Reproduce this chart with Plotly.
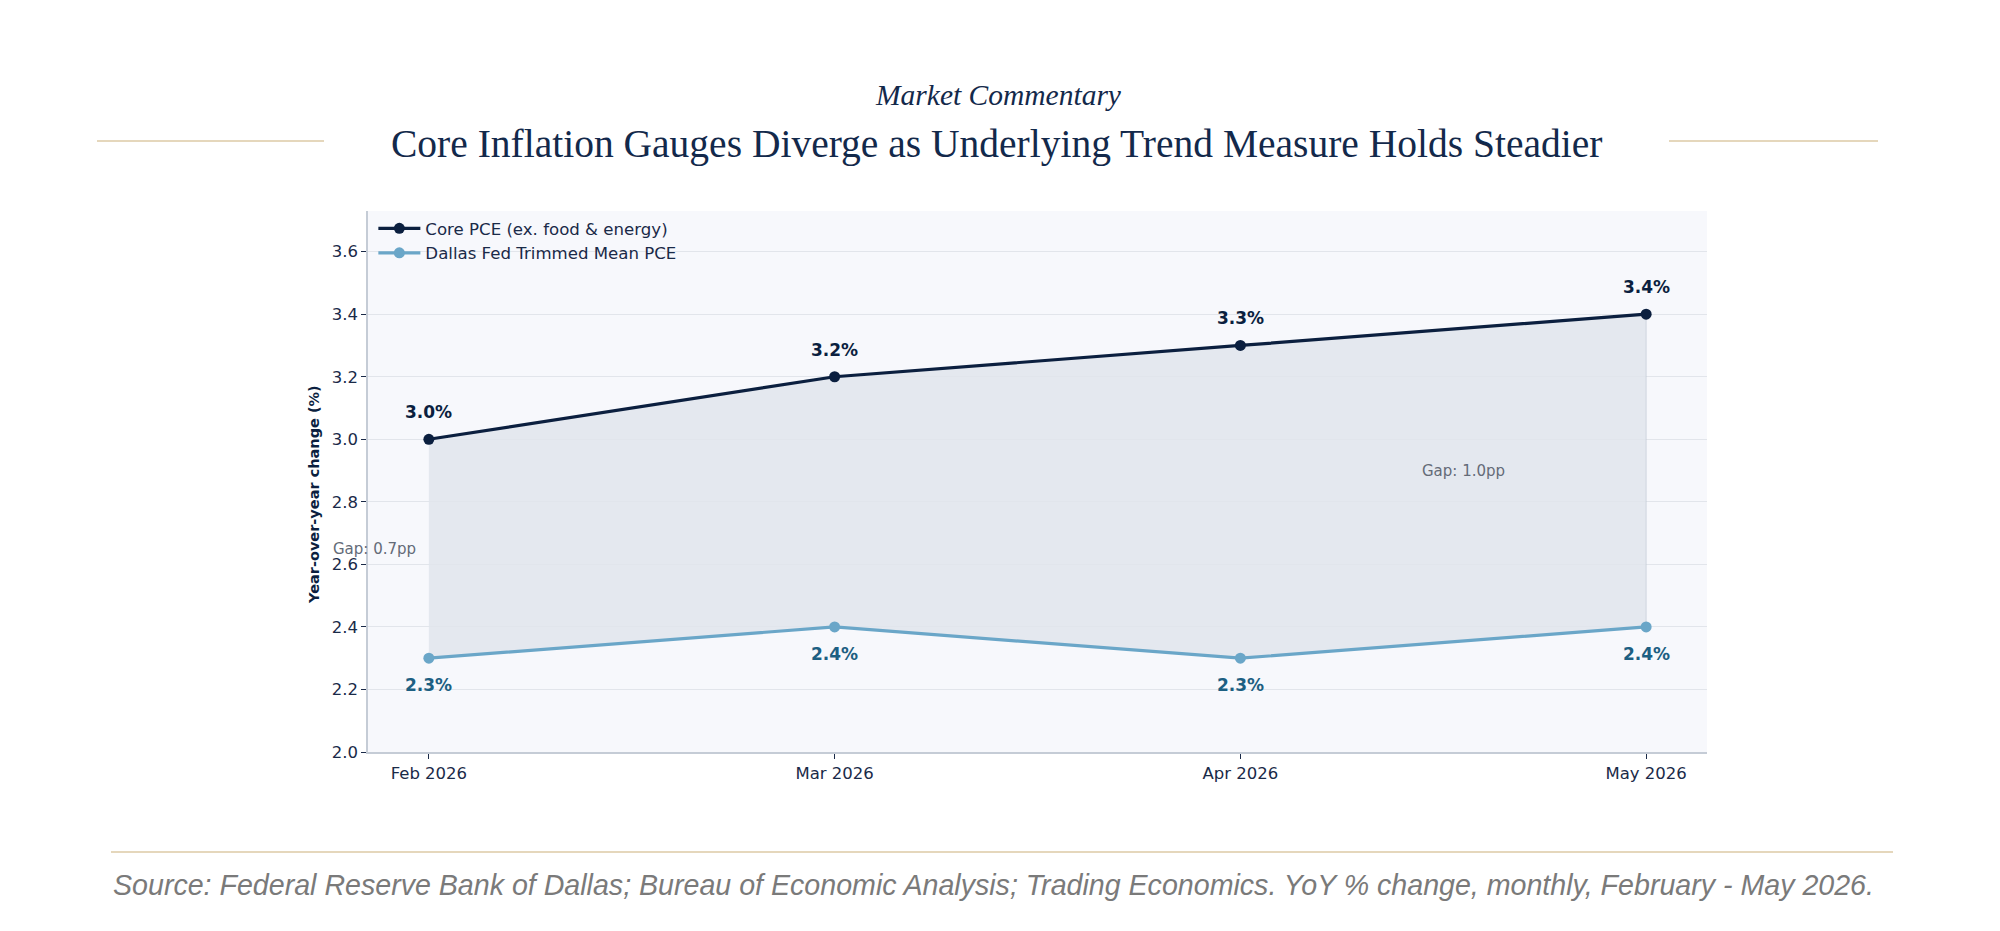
import plotly.graph_objects as go

# data
months = ["Feb 2026", "Mar 2026", "Apr 2026", "May 2026"]
core_pce = [3.0, 3.2, 3.3, 3.4]
trimmed_mean = [2.3, 2.4, 2.3, 2.4]
y_ticks = [2.0, 2.2, 2.4, 2.6, 2.8, 3.0, 3.2, 3.4, 3.6]
gap_notes = [("Gap: 0.7pp", 0), ("Gap: 1.0pp", 3)]

NAVY = "#0b1f3f"
LIGHT_BLUE = "#6aa6c8"
LABEL_BLUE = "#1d5f82"
TEXT = "#1a2a48"

W, H = 2000, 931
L, R, T, B = 360, 301, 203, 187
pw, ph = W - L - R, H - T - B


def px(x):
    return (x - L) / pw


def py(y):
    return (H - B - y) / ph


xs = list(range(len(months)))

fig = go.Figure()

# shaded gap between the two measures
fig.add_trace(go.Scatter(
    x=xs + xs[::-1],
    y=core_pce + trimmed_mean[::-1],
    fill="toself",
    fillcolor="rgba(225,229,236,0.85)",
    line=dict(color="rgba(190,198,210,0.6)", width=1),
    mode="lines",
    hoverinfo="skip",
    showlegend=False,
))

fig.add_trace(go.Scatter(
    x=xs, y=core_pce, mode="lines+markers",
    name="Core PCE (ex. food & energy)",
    line=dict(color=NAVY, width=3.2),
    marker=dict(color=NAVY, size=11),
))
fig.add_trace(go.Scatter(
    x=xs, y=trimmed_mean, mode="lines+markers",
    name="Dallas Fed Trimmed Mean PCE",
    line=dict(color=LIGHT_BLUE, width=3.2),
    marker=dict(color=LIGHT_BLUE, size=11),
))

annotations = []
for i, v in enumerate(core_pce):
    annotations.append(dict(
        x=i, y=v, text="<b>%.1f%%</b>" % v, showarrow=False, yshift=27,
        font=dict(family="DejaVu Sans", size=17, color=NAVY),
    ))
for i, v in enumerate(trimmed_mean):
    annotations.append(dict(
        x=i, y=v, text="<b>%.1f%%</b>" % v, showarrow=False, yshift=-27,
        font=dict(family="DejaVu Sans", size=17, color=LABEL_BLUE),
    ))

# gap notes
gap_x = {0: -0.135, 3: 2.55}
for txt, i in gap_notes:
    annotations.append(dict(
        x=gap_x[i], y=(core_pce[i] + trimmed_mean[i]) / 2, text=txt,
        showarrow=False, font=dict(family="DejaVu Sans", size=15, color="#646b78"),
    ))

# headings, axis title and source
annotations += [
    dict(xref="paper", yref="paper", x=px(990), y=py(87), text="<i>Market Commentary</i>",
         showarrow=False, xanchor="center", yanchor="middle",
         font=dict(family="Liberation Serif", size=29.5, color="#13294b")),
    dict(xref="paper", yref="paper", x=px(988), y=py(136),
         text="Core Inflation Gauges Diverge as Underlying Trend Measure Holds Steadier",
         showarrow=False, xanchor="center", yanchor="middle",
         font=dict(family="Liberation Serif", size=39.5, color="#13294b")),
    dict(xref="paper", yref="paper", x=px(306), y=py(487), textangle=-90,
         text="<b>Year-over-year change (%)</b>",
         showarrow=False, xanchor="center", yanchor="middle",
         font=dict(family="DejaVu Sans", size=14.5, color=NAVY)),
    dict(xref="paper", yref="paper", x=px(103), y=py(877),
         text="<i>Source: Federal Reserve Bank of Dallas; Bureau of Economic Analysis; Trading Economics. "
              "YoY % change, monthly, February - May 2026.</i>",
         showarrow=False, xanchor="left", yanchor="middle",
         font=dict(family="Liberation Sans", size=28.6, color="#7a7a7a")),
]

rule = "#dccaa6"
shapes = [
    dict(type="line", xref="paper", yref="paper", x0=px(89), x1=px(316), y0=py(133), y1=py(133),
         line=dict(color=rule, width=1.5)),
    dict(type="line", xref="paper", yref="paper", x0=px(1661), x1=px(1870), y0=py(133), y1=py(133),
         line=dict(color=rule, width=1.5)),
    dict(type="line", xref="paper", yref="paper", x0=px(103), x1=px(1885), y0=py(844), y1=py(844),
         line=dict(color=rule, width=1.5)),
]

fig.update_layout(
    width=W, height=H,
    margin=dict(l=L, r=R, t=T, b=B),
    paper_bgcolor="white",
    plot_bgcolor="#f7f8fc",
    font=dict(family="DejaVu Sans", size=16, color=TEXT),
    annotations=annotations,
    shapes=shapes,
    legend=dict(
        x=0.004, y=1.0, xanchor="left", yanchor="top",
        bgcolor="rgba(0,0,0,0)", font=dict(size=16.6, color=TEXT),
        tracegroupgap=0, itemwidth=42,
    ),
    xaxis=dict(
        range=[-0.15, 3.15], tickvals=xs, ticktext=months,
        showgrid=False, zeroline=False,
        showline=True, linecolor="#c5ccd6", linewidth=1.5,
        ticks="outside", ticklen=5, tickcolor=TEXT,
        tickfont=dict(size=16.5, color=TEXT),
    ),
    yaxis=dict(
        range=[2.0, 3.73], tickvals=y_ticks, tickformat=".1f",
        showgrid=True, gridcolor="#e2e5eb", gridwidth=1, zeroline=False,
        showline=True, linecolor="#c5ccd6", linewidth=1.5,
        ticks="outside", ticklen=5, tickcolor=TEXT,
        tickfont=dict(size=16.5, color=TEXT),
    ),
)

fig.write_html("out.html")
